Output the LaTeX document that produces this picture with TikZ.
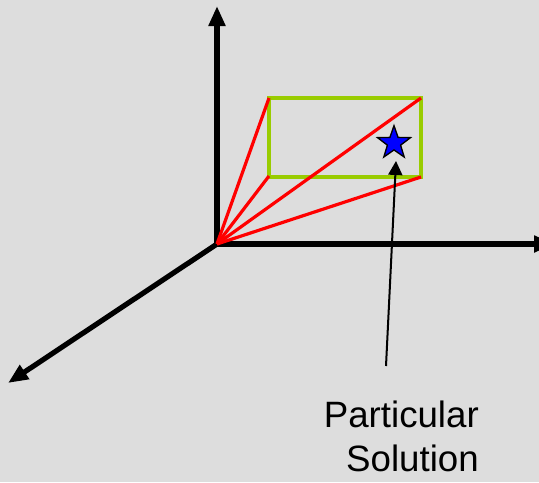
\documentclass[tikz,border=0pt]{standalone}
\usepackage{fontspec}
\setmainfont{Liberation Sans}
\usetikzlibrary{arrows.meta,shapes.geometric}
\definecolor{panel}{HTML}{DDDDDD}
\definecolor{boxgreen}{HTML}{99CC00}
\begin{document}
\begin{tikzpicture}[x=0.75pt,y=-0.75pt,
    axis/.style={line width=3.9pt, -{Triangle[length=15pt,width=12pt]}},
    ray/.style={red, line width=2.4pt},
    pointer/.style={line width=1.5pt, -{Triangle[length=10.5pt,width=10.5pt]}}]
    % Background
    \fill[panel] (0,0) rectangle (539,482);
    \useasboundingbox (0,0) rectangle (539,482);

    % Axes
    \coordinate (O) at (217,244);
    \coordinate (ytip) at (217,6);
    \coordinate (xtip) at (554,244);
    \coordinate (ztip) at (8,383);
    \draw[axis] (217,246) -- (ytip);
    \draw[axis] (215,244) -- (xtip);
    \draw[axis] (O) -- (ztip);

    % Box of solutions
    \coordinate (tl) at (269,98);
    \coordinate (bl) at (269,176);
    \coordinate (tr) at (421,98);
    \coordinate (br) at (421,177);
    \draw[boxgreen, line width=2.8pt] (tl) rectangle (br);

    % Rays to the corners
    \foreach \c in {tl,bl,tr,br} \draw[ray] (O) -- (\c);

    % Particular solution
    \node[star, star points=5, star point ratio=2.5, minimum size=26pt, inner sep=0pt,
        fill=blue, draw=black, line width=1pt] (sol) at (394,143) {};
    \node[anchor=north east, inner sep=0pt, align=right, font=\fontsize{27.5}{33}\selectfont]
        (lbl) at (479,401) {Particular\\Solution};
    \coordinate (tail) at (386,366);
    \draw[pointer] (tail) -- (396,161);
\end{tikzpicture}
\end{document}
